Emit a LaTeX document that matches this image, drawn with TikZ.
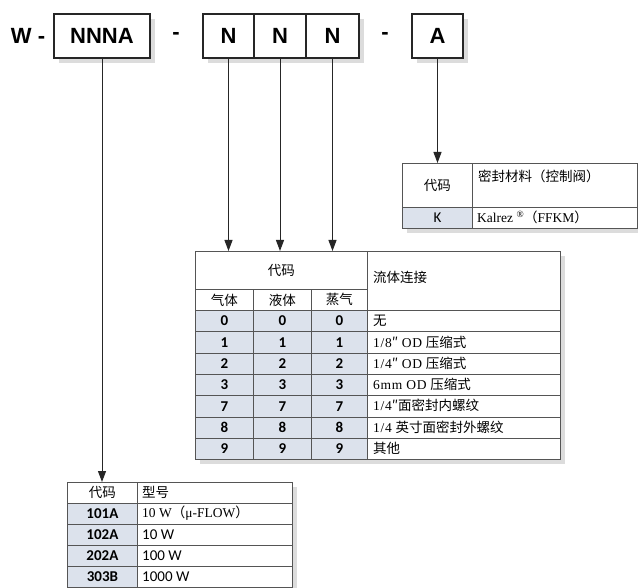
\documentclass[tikz,border=0pt]{standalone}
\usepackage{fontspec}
\setmainfont{Liberation Sans}
\newfontfamily\cjk{Noto Sans CJK SC}
\newfontfamily\calib{Carlito}
\newfontfamily\ser{Liberation Serif}
\newfontfamily\serw[LetterSpace=5]{Liberation Serif}
\usetikzlibrary{arrows.meta}
\definecolor{cellshade}{RGB}{220,226,236}
\definecolor{gridcol}{RGB}{85,85,85}
\definecolor{shadowcol}{RGB}{220,220,220}
\newcommand\tc[7]{\node[tcell,#6,minimum width=#4pt,minimum height=#5pt,anchor=north west] (#1) at (#2,#3) {#7};}
\newcommand\lt[4]{\node[anchor=west,inner sep=0pt,font=\tabfont,#3] (#1) at (#2) {#4};}
\newcommand\tabfont{\fontsize{13.5}{15}\selectfont}
\begin{document}
\begin{tikzpicture}[x=1pt,y=-1pt,
  topbox/.style={draw=black!85,line width=1.2pt,fill=white,inner sep=0pt,
    minimum height=44pt,font=\fontsize{22}{24}\selectfont\bfseries},
  toptext/.style={inner sep=0pt,font=\fontsize{22}{24}\selectfont\bfseries},
  tcell/.style={draw=gridcol,line width=0.8pt,fill=white,inner sep=0pt,font=\tabfont},
  code/.style={fill=cellshade,font=\calib\fontsize{15}{17}\selectfont\bfseries},
  arr/.style={draw=black!85,line width=1pt,-{Triangle[length=11pt,width=8pt]}},
  shadowbox/.style={fill=shadowcol}]
\useasboundingbox (0,0) rectangle (638,588);
\fill[white] (0,0) rectangle (638,588);

% top shadows
\fill[shadowbox] (59,19) rectangle (155,63);
\fill[shadowbox] (208,19) rectangle (364,63);
\fill[shadowbox] (417,19) rectangle (468,63);
% top row
\node[toptext] (w) at (28,36) {W -};
\node[topbox,minimum width=96pt] (nnna) at (102,36) {NNNA};
\node[toptext] (d1) at (176,36) {-};
\node[topbox,minimum width=51pt] (n1) at (228.5,36) {N};
\node[topbox,minimum width=52pt] (n2) at (280,36) {N};
\node[topbox,minimum width=53pt] (n3) at (332.5,36) {N};
\node[toptext] (d2) at (385,36) {-};
\node[topbox,minimum width=51pt] (a) at (437.5,36) {A};

% table shadows
\fill[shadowbox] (407,168) rectangle (642,233);
\fill[shadowbox] (200,256) rectangle (565,464);
\fill[shadowbox] (72,487) rectangle (297,593);

% table A (seal material)
\tc{acode}{402}{163}{70}{44}{}{\cjk 代码}
\tc{amat}{472}{163}{165}{44}{}{}
\lt{amat-t}{478,176}{}{\cjk 密封材料（控制阀）}
\tc{ak}{402}{207}{70}{21}{code,font=\calib\fontsize{15}{17}\selectfont}{K}
\tc{akv}{472}{207}{165}{21}{}{}
\lt{akv-t}{477,217.5}{}{{\ser Kalrez \textsuperscript{®}}{\cjk （}{\ser FFKM}{\cjk ）}}

% table B (fluid connection)
\tc{bcode}{195}{251}{172}{38}{}{\cjk 代码}
\tc{bgas}{195}{289}{58}{21}{}{\cjk 气体}
\tc{bliq}{253}{289}{58}{21}{}{\cjk 液体}
\tc{bvap}{311}{289}{56}{21}{}{\cjk 蒸气}
\tc{bconn}{367}{251}{193}{59}{}{}
\lt{bconn-t}{373,277}{}{\cjk 流体连接}
\foreach \c/\t [count=\i from 0] in {
  0/{\cjk 无},
  1/{{\serw 1/8}{\cjk ″} {\serw OD} {\cjk 压缩式}},
  2/{{\serw 1/4}{\cjk ″} {\serw OD} {\cjk 压缩式}},
  3/{{\serw 6mm OD} {\cjk 压缩式}},
  7/{{\serw 1/4}{\cjk ″面密封内螺纹}},
  8/{{\serw 1/4} {\cjk 英寸面密封外螺纹}},
  9/{\cjk 其他}}{
  \pgfmathsetmacro\yy{310+\i*21.3}
  \tc{bg\i}{195}{\yy}{58}{21.3}{code}{\c}
  \tc{bl\i}{253}{\yy}{58}{21.3}{code}{\c}
  \tc{bv\i}{311}{\yy}{56}{21.3}{code}{\c}
  \tc{bt\i}{367}{\yy}{193}{21.3}{}{}
  \lt{bt\i-t}{373,\yy+10.6}{}{\t}
}

% table C (model)
\tc{ccode}{67}{482}{70}{21}{}{\cjk 代码}
\tc{cmod}{137}{482}{155}{21}{}{}
\lt{cmod-t}{142,492.5}{}{\cjk 型号}
\foreach \c/\t [count=\i from 0] in {
  101A/{{\ser 10 W}{\cjk （}{\ser μ-FLOW}{\cjk ）}},
  102A/{\calib\fontsize{15}{17}\selectfont 10 W},
  202A/{\calib\fontsize{15}{17}\selectfont 100 W},
  303B/{\calib\fontsize{15}{17}\selectfont 1000 W}}{
  \pgfmathsetmacro\yy{503+\i*21}
  \tc{cc\i}{67}{\yy}{70}{21}{code}{\c}
  \tc{cv\i}{137}{\yy}{155}{21}{}{}
  \lt{cv\i-t}{142,\yy+10.5}{}{\t}
}

% connectors
\draw[arr] (nnna.south) -- (nnna.south |- ccode.north);
\draw[arr] (n1.south) -- (n1.south |- bcode.north);
\draw[arr] (n2.south) -- (n2.south |- bcode.north);
\draw[arr] (n3.south) -- (n3.south |- bcode.north);
\draw[arr] (a.south) -- (a.south |- acode.north);
\end{tikzpicture}
\end{document}
